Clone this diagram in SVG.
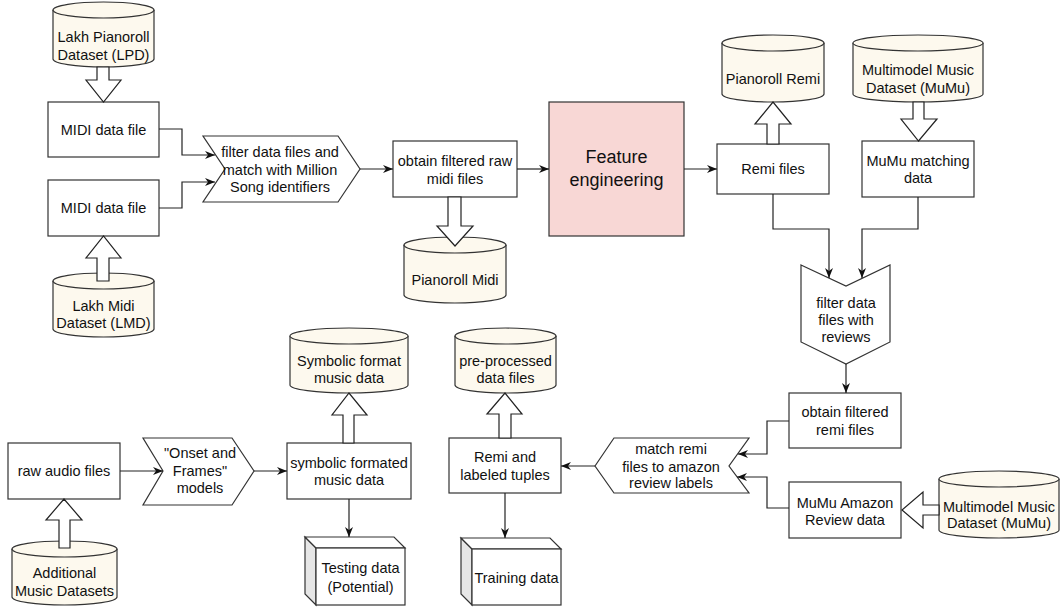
<svg xmlns="http://www.w3.org/2000/svg" width="1061" height="608" viewBox="0 0 1061 608">
<style>
  .box{fill:#ffffff;stroke:#333333;stroke-width:1.2}
  .cyl{fill:#fdf9ee;stroke:#333333;stroke-width:1.2}
  .feat{fill:#f8d7d5;stroke:#333333;stroke-width:1.2}
  .side{fill:#e6e6e6;stroke:#333333;stroke-width:1.2}
  .t{font-family:"Liberation Sans",Arial,Helvetica,sans-serif;font-size:14.5px;fill:#111111;text-anchor:middle;dominant-baseline:central}
  .tb{font-family:"Liberation Sans",Arial,Helvetica,sans-serif;font-size:18px;fill:#111111;text-anchor:middle;dominant-baseline:central}
  .edge{fill:none;stroke:#222222;stroke-width:1.2}
  .blk{fill:#ffffff;stroke:#222222;stroke-width:1.2;stroke-linejoin:miter}
</style>
<defs>
  <marker id="ah" viewBox="0 0 10 8" refX="10" refY="4" markerWidth="10" markerHeight="8" orient="auto" markerUnits="userSpaceOnUse">
    <path d="M0,0 L10,4 L0,8 L3,4 Z" fill="#111111"/>
  </marker>
</defs>

<!-- Nodes -->
<g id="lpd">
  <path class="cyl" d="M53,10 A50.5,8 0 0 1 154,10 V59 A50.5,8 0 0 1 53,59 Z"/>
  <path class="cyl" d="M53,10 A50.5,8 0 0 0 154,10"/>
  <text class="t" x="103.5" y="37">Lakh Pianoroll</text>
  <text class="t" x="103.5" y="55">Dataset (LPD)</text>
</g>
<g id="midi1">
  <rect class="box" x="48" y="102" width="111" height="55"/>
  <text class="t" x="103.5" y="130">MIDI data file</text>
</g>
<g id="midi2">
  <rect class="box" x="48" y="180" width="111" height="56"/>
  <text class="t" x="103.5" y="208">MIDI data file</text>
</g>
<g id="lmd">
  <path class="cyl" d="M53,281 A50.5,8 0 0 1 154,281 V329 A50.5,8 0 0 1 53,329 Z"/>
  <path class="cyl" d="M53,281 A50.5,8 0 0 0 154,281"/>
  <text class="t" x="103.5" y="306">Lakh Midi</text>
  <text class="t" x="103.5" y="323">Dataset (LMD)</text>
</g>
<g id="filter1">
  <polygon class="box" points="203,136 338,136 360,169 338,202 203,202 225,169"/>
  <text class="t" x="280" y="152">filter data files and</text>
  <text class="t" x="280" y="170">match with Million</text>
  <text class="t" x="280" y="187">Song identifiers</text>
</g>
<g id="obtainraw">
  <rect class="box" x="393" y="141" width="124" height="56"/>
  <text class="t" x="455" y="161">obtain filtered raw</text>
  <text class="t" x="455" y="179">midi files</text>
</g>
<g id="pianomidi">
  <path class="cyl" d="M404,245 A51,8 0 0 1 506,245 V295 A51,8 0 0 1 404,295 Z"/>
  <path class="cyl" d="M404,245 A51,8 0 0 0 506,245"/>
  <text class="t" x="455" y="280">Pianoroll Midi</text>
</g>
<g id="feature">
  <rect class="feat" x="549" y="102" width="135" height="134"/>
  <text class="tb" x="616.5" y="157">Feature</text>
  <text class="tb" x="616.5" y="180">engineering</text>
</g>
<g id="remifiles">
  <rect class="box" x="717" y="144" width="112" height="50"/>
  <text class="t" x="773" y="169">Remi files</text>
</g>
<g id="pianoremi">
  <path class="cyl" d="M722,43 A51,8 0 0 1 824,43 V94 A51,8 0 0 1 722,94 Z"/>
  <path class="cyl" d="M722,43 A51,8 0 0 0 824,43"/>
  <text class="t" x="773" y="79">Pianoroll Remi</text>
</g>
<g id="mumutop">
  <path class="cyl" d="M853,43 A65,8 0 0 1 983,43 V94 A65,8 0 0 1 853,94 Z"/>
  <path class="cyl" d="M853,43 A65,8 0 0 0 983,43"/>
  <text class="t" x="918" y="70">Multimodel Music</text>
  <text class="t" x="918" y="88">Dataset (MuMu)</text>
</g>
<g id="mumumatch">
  <rect class="box" x="862" y="141" width="112" height="56"/>
  <text class="t" x="918" y="161">MuMu matching</text>
  <text class="t" x="918" y="178">data</text>
</g>
<g id="filter2">
  <polygon class="box" points="801,265 846,286 890,265 890,342 846,364 801,342"/>
  <text class="t" x="846" y="303">filter data</text>
  <text class="t" x="846" y="320">files with</text>
  <text class="t" x="846" y="337">reviews</text>
</g>
<g id="obtainremi">
  <rect class="box" x="789" y="393" width="112" height="55"/>
  <text class="t" x="845" y="412">obtain filtered</text>
  <text class="t" x="845" y="430">remi files</text>
</g>
<g id="mumuamazon">
  <rect class="box" x="789" y="482" width="112" height="56"/>
  <text class="t" x="845" y="503">MuMu Amazon</text>
  <text class="t" x="845" y="520">Review data</text>
</g>
<g id="mumubottom">
  <path class="cyl" d="M939,479 A60,8 0 0 1 1059,479 V530 A60,8 0 0 1 939,530 Z"/>
  <path class="cyl" d="M939,479 A60,8 0 0 0 1059,479"/>
  <text class="t" x="999" y="507">Multimodel Music</text>
  <text class="t" x="999" y="523">Dataset (MuMu)</text>
</g>
<g id="matchremi">
  <polygon class="box" points="595,466 614,438 749,438 729,466 749,493 614,493"/>
  <text class="t" x="671" y="449">match remi</text>
  <text class="t" x="671" y="467">files to amazon</text>
  <text class="t" x="671" y="483">review labels</text>
</g>
<g id="remilabeled">
  <rect class="box" x="449" y="438" width="112" height="55"/>
  <text class="t" x="505" y="457">Remi and</text>
  <text class="t" x="505" y="475">labeled tuples</text>
</g>
<g id="preprocessed">
  <path class="cyl" d="M455,336 A50.5,8 0 0 1 556,336 V385 A50.5,8 0 0 1 455,385 Z"/>
  <path class="cyl" d="M455,336 A50.5,8 0 0 0 556,336"/>
  <text class="t" x="505.5" y="361">pre-processed</text>
  <text class="t" x="505.5" y="378">data files</text>
</g>
<g id="training">
  <polygon class="side" points="461,538 472,549 472,605 461,594"/>
  <polygon class="box" points="461,538 550,538 561,549 472,549"/>
  <rect class="box" x="472" y="549" width="89" height="56"/>
  <text class="t" x="516.5" y="578">Training data</text>
</g>
<g id="rawaudio">
  <rect class="box" x="8" y="443" width="112" height="56"/>
  <text class="t" x="64" y="471">raw audio files</text>
</g>
<g id="additional">
  <path class="cyl" d="M12,549 A52.5,8 0 0 1 117,549 V597 A52.5,8 0 0 1 12,597 Z"/>
  <path class="cyl" d="M12,549 A52.5,8 0 0 0 117,549"/>
  <text class="t" x="64.5" y="573">Additional</text>
  <text class="t" x="64.5" y="591">Music Datasets</text>
</g>
<g id="onset">
  <polygon class="box" points="143,438 232,438 254,471 232,505 143,505 163,471"/>
  <text class="t" x="200" y="453">"Onset and</text>
  <text class="t" x="200" y="471">Frames"</text>
  <text class="t" x="200" y="488">models</text>
</g>
<g id="symbolicbox">
  <rect class="box" x="287" y="443" width="124" height="56"/>
  <text class="t" x="349" y="463">symbolic formated</text>
  <text class="t" x="349" y="480">music data</text>
</g>
<g id="symboliccyl">
  <path class="cyl" d="M290,336 A59,8 0 0 1 408,336 V385 A59,8 0 0 1 290,385 Z"/>
  <path class="cyl" d="M290,336 A59,8 0 0 0 408,336"/>
  <text class="t" x="349" y="361">Symbolic format</text>
  <text class="t" x="349" y="378">music data</text>
</g>
<g id="testing">
  <polygon class="side" points="305,537 316,548 316,605 305,594"/>
  <polygon class="box" points="305,537 394,537 405,548 316,548"/>
  <rect class="box" x="316" y="548" width="89" height="57"/>
  <text class="t" x="360.5" y="568">Testing data</text>
  <text class="t" x="360.5" y="587">(Potential)</text>
</g>

<!-- Connectors -->
<g id="connectors">
  <path class="edge" marker-end="url(#ah)" d="M159,129 H182 V155 H215"/>
  <path class="edge" marker-end="url(#ah)" d="M159,208 H182 V182 H215"/>
  <path class="edge" marker-end="url(#ah)" d="M360,169 H393"/>
  <path class="edge" marker-end="url(#ah)" d="M517,169 H549"/>
  <path class="edge" marker-end="url(#ah)" d="M684,169 H717"/>
  <path class="edge" marker-end="url(#ah)" d="M773,194 V229 H829 V278"/>
  <path class="edge" marker-end="url(#ah)" d="M918,197 V229 H862 V278"/>
  <path class="edge" marker-end="url(#ah)" d="M846,364 V393"/>
  <path class="edge" marker-end="url(#ah)" d="M789,421 H767 V454 H738"/>
  <path class="edge" marker-end="url(#ah)" d="M789,508 H767 V477 H737"/>
  <path class="edge" marker-end="url(#ah)" d="M595,466 H561"/>
  <path class="edge" marker-end="url(#ah)" d="M505,493 V538"/>
  <path class="edge" marker-end="url(#ah)" d="M120,471 H163"/>
  <path class="edge" marker-end="url(#ah)" d="M254,471 H287"/>
  <path class="edge" marker-end="url(#ah)" d="M349,499 V537"/>
  <!-- block arrows -->
  <polygon class="blk" points="97,67 109,67 109,80 121,80 103.5,102 86,80 97,80"/>
  <polygon class="blk" points="97,281 109,281 109,258 121,258 103.5,236 86,258 97,258"/>
  <polygon class="blk" points="448,197 461,197 461,226 473,226 455,246 437,226 448,226"/>
  <polygon class="blk" points="767,144 779,144 779,124 791,124 773,102 755,124 767,124"/>
  <polygon class="blk" points="913,102 924,102 924,119 937,119 918.5,141 901,119 913,119"/>
  <polygon class="blk" points="939,505 939,515 923,515 923,528 902,510 923,492 923,505"/>
  <polygon class="blk" points="343,443 354,443 354,415 367,415 349,393 332,415 343,415"/>
  <polygon class="blk" points="499,438 511,438 511,414 522,414 505,393 487,414 499,414"/>
  <polygon class="blk" points="59,548 70,548 70,520 82,520 64,499 46,520 59,520"/>
</g>
</svg>
